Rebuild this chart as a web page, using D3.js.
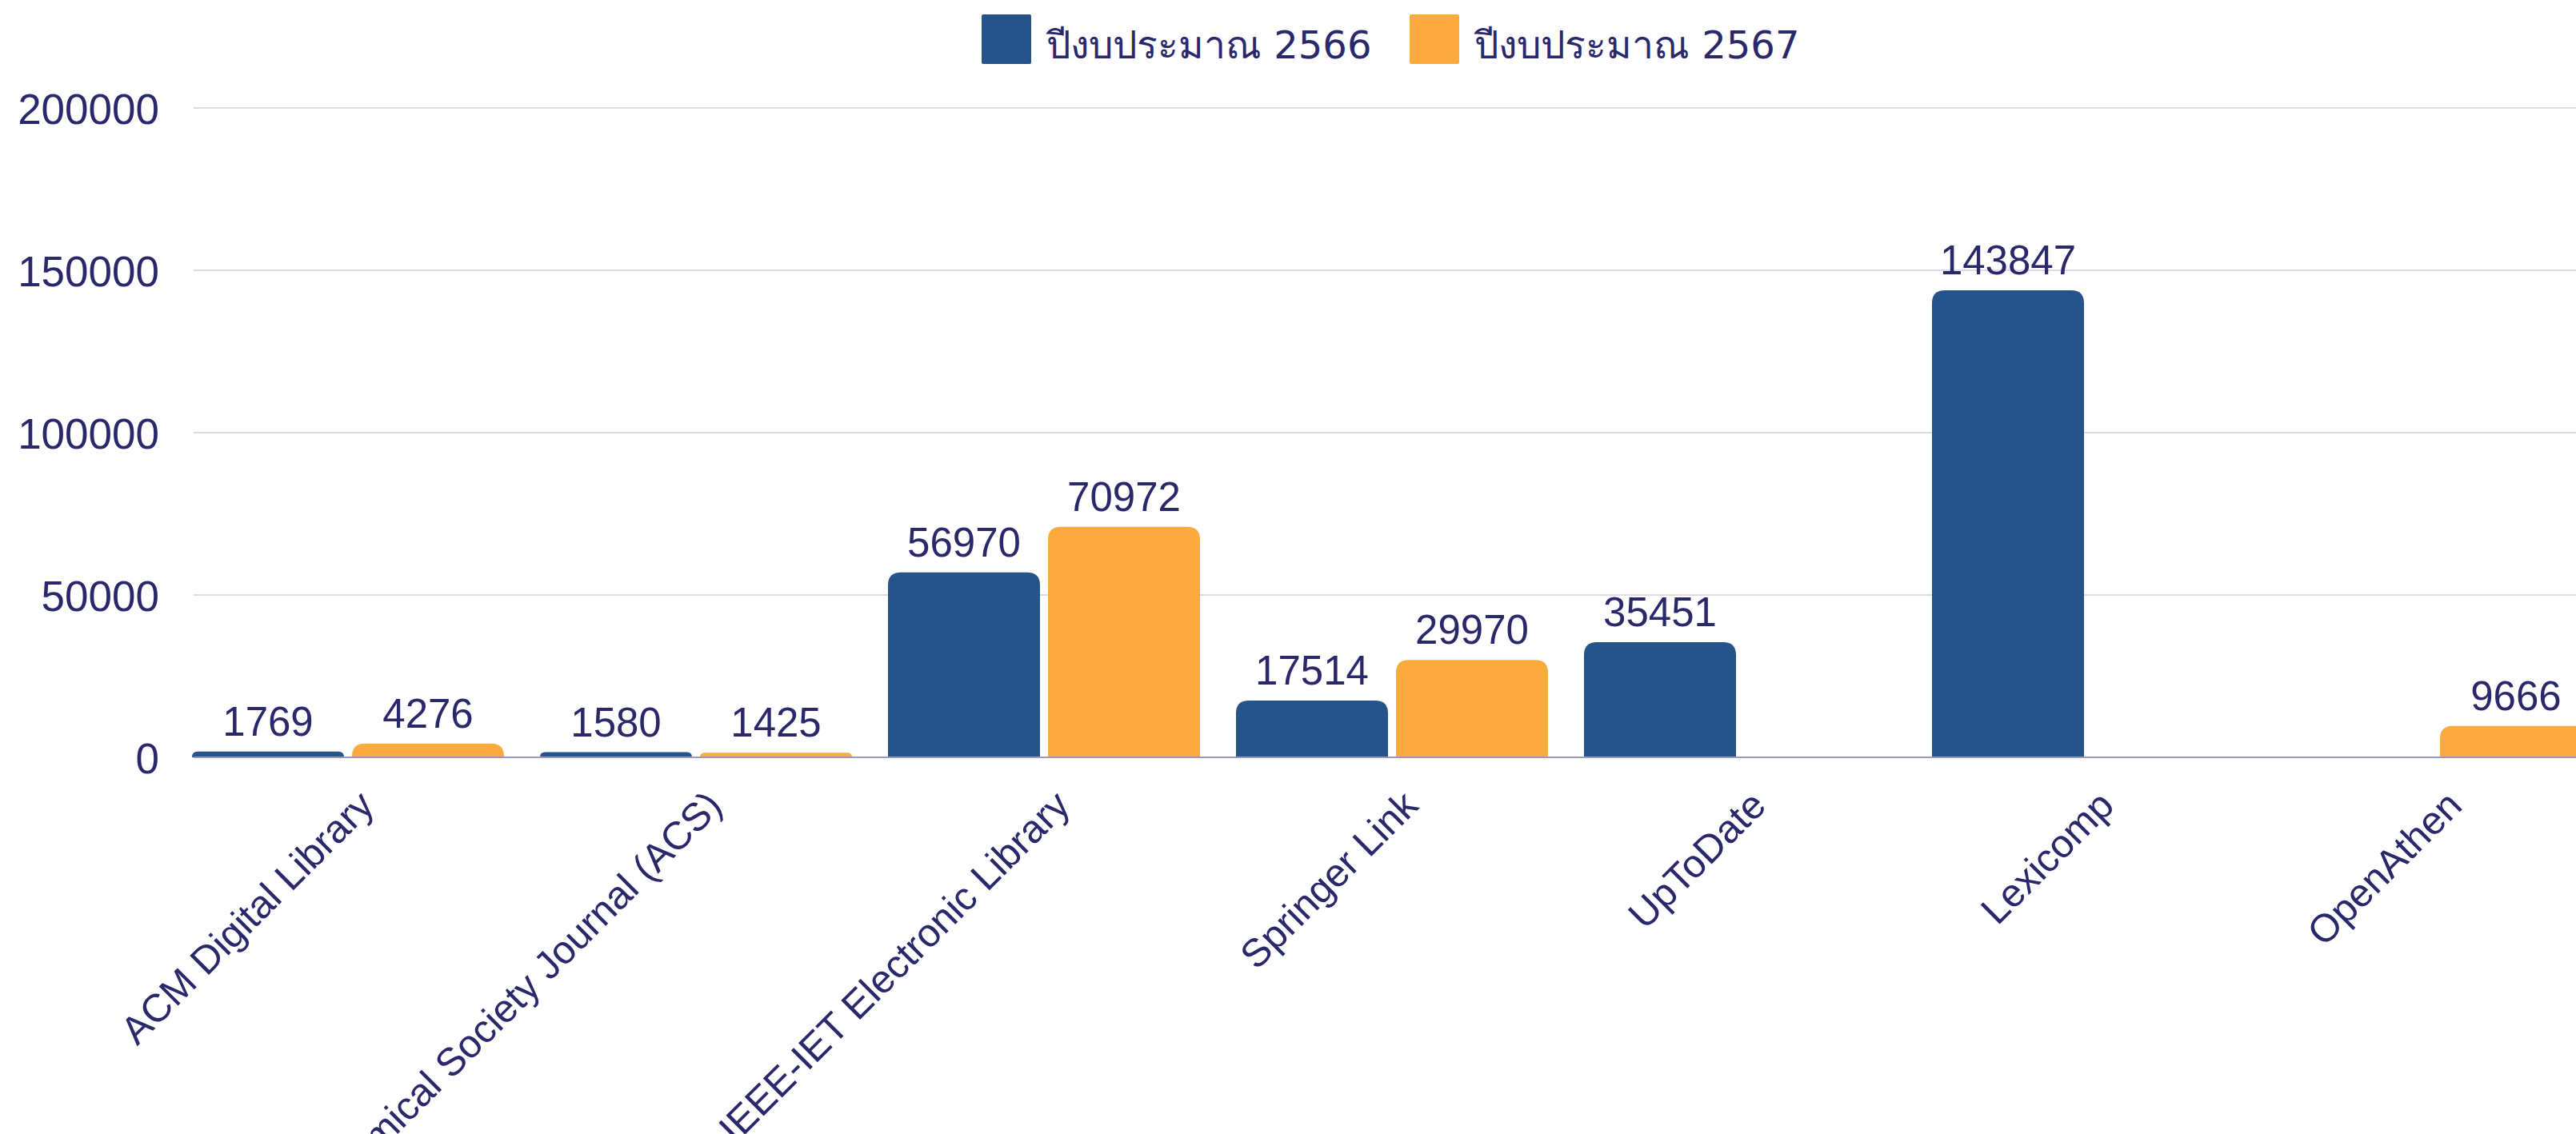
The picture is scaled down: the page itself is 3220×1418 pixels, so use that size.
<!DOCTYPE html>
<html>
<head>
<meta charset="utf-8">
<script src="https://cdn.jsdelivr.net/npm/d3@7"></script>
<style>
  html, body { margin: 0; padding: 0; background: #fff; }
  svg { display: block; }
</style>
</head>
<body>
<div id="chart"></div>
<script>
// Database usage, budget year 2566 vs 2567

const categories = [
    'ACM Digital Library',
    'American Chemical Society Journal (ACS)',
    'IEEE-IET Electronic Library',
    'Springer Link',
    'UpToDate',
    'Lexicomp',
    'OpenAthen'
];
const seriesNames = ['ปีงบประมาณ 2566', 'ปีงบประมาณ 2567'];
const values2566 = [1769, 1580, 56970, 17514, 35451, 143847, null];
const values2567 = [4276, 1425, 70972, 29970, null, null, 9666];
const yTicks = [0, 50000, 100000, 150000, 200000];

const COLORS = ['#25538a', '#fbab3e'];
const TEXT = '#29286b';
const FONT = '"Liberation Sans", Arial, sans-serif';

const W = 3220, H = 1418;

const svg = d3.select('#chart')
    .append('svg')
    .attr('width', W)
    .attr('height', H);

// Scales
const x = d3.scaleBand()
    .domain(categories)
    .range([240, 3240])
    .paddingInner(0.1034)
    .paddingOuter(0);

const xSub = d3.scaleBand()
    .domain([0, 1])
    .range([0, x.bandwidth()])
    .paddingInner(0.05);

const y = d3.scaleLinear()
    .domain([0, 200000])
    .range([947, 135]);

// Gridlines
svg.append('g')
    .selectAll('line')
    .data(yTicks.filter(d => d > 0))
    .enter()
    .append('line')
    .attr('x1', 242)
    .attr('x2', W)
    .attr('y1', d => y(d))
    .attr('y2', d => y(d))
    .attr('stroke', '#dcdbe6')
    .attr('stroke-width', 2);

// Y axis labels
const yAxis = svg.append('g')
    .attr('transform', 'translate(199,0)')
    .call(d3.axisLeft(y).tickValues(yTicks).tickSize(0).tickPadding(0).tickFormat(d3.format('d')));
yAxis.select('.domain').remove();
yAxis.selectAll('text')
    .attr('font-family', FONT)
    .attr('font-size', 53)
    .attr('fill', TEXT)
    .attr('dy', '0.36em');

// Bars with rounded top corners
function topRounded(x0, y0, w, h, r) {
    r = Math.min(r, h, w / 2);
    return `M${x0},${y0 + h}V${y0 + r}Q${x0},${y0} ${x0 + r},${y0}` +
        `H${x0 + w - r}Q${x0 + w},${y0} ${x0 + w},${y0 + r}V${y0 + h}Z`;
}

const rows = [];
categories.forEach((c, i) => {
    [values2566[i], values2567[i]].forEach((v, s) => {
        if (v != null) rows.push({ cat: c, s, v });
    });
});

svg.append('g')
    .selectAll('path')
    .data(rows)
    .enter()
    .append('path')
    .attr('fill', d => COLORS[d.s])
    .attr('d', d => {
        const bx = x(d.cat) + xSub(d.s);
        return topRounded(bx, y(d.v), xSub.bandwidth(), y(0) - y(d.v), 16);
    });

// Baseline
svg.append('line')
    .attr('x1', 242)
    .attr('x2', W)
    .attr('y1', y(0))
    .attr('y2', y(0))
    .attr('stroke', '#9c98b8')
    .attr('stroke-width', 2);

// Value labels
svg.append('g')
    .selectAll('text')
    .data(rows)
    .enter()
    .append('text')
    .attr('x', d => x(d.cat) + xSub(d.s) + xSub.bandwidth() / 2)
    .attr('y', d => y(d.v) - 20)
    .attr('text-anchor', 'middle')
    .attr('font-family', FONT)
    .attr('font-size', 51)
    .attr('fill', TEXT)
    .text(d => d.v);

// X labels, rotated (long ones run past the bottom edge, as in the source)
svg.append('g')
    .selectAll('text')
    .data(categories)
    .enter()
    .append('text')
    .attr('transform', d => `translate(${x(d) + x.bandwidth() / 2 + 35},1010) rotate(-45)`)
    .attr('text-anchor', 'end')
    .attr('font-family', FONT)
    .attr('font-size', 49)
    .attr('fill', TEXT)
    .text(d => d);

// Legend
const legendX = [1227, 1762];
const legend = svg.append('g');
seriesNames.forEach((name, i) => {
    const g = legend.append('g').attr('transform', `translate(${legendX[i]},18)`);
    g.append('rect')
        .attr('width', 62)
        .attr('height', 62)
        .attr('rx', 2)
        .attr('fill', COLORS[i]);
    g.append('text')
        .attr('x', 81)
        .attr('y', 55)
        .attr('font-family', '"DejaVu Sans", "Noto Sans", sans-serif')
        .attr('font-size', 48)
        .attr('fill', TEXT)
        .text(name);
});
</script>
</body>
</html>
